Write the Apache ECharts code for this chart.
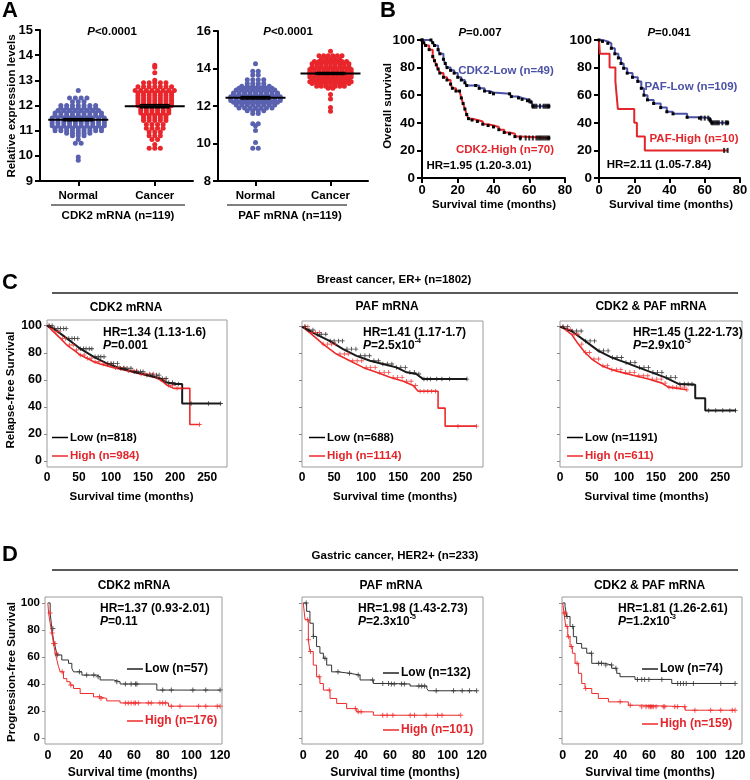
<!DOCTYPE html>
<html><head><meta charset="utf-8">
<script src="https://cdn.jsdelivr.net/npm/echarts/dist/echarts.min.js"></script>
<style>html,body{margin:0;padding:0;background:#fff}#c{width:750px;height:780px}</style>
</head><body><div id="c"></div><script>
// ---------- DATA ----------
const groupCats = ['Normal', 'Cancer'];
const cdk2Normal = [12.6, 12.3,12.3,12.3,12.3, 12.15,12.15,12.15,
 12.0,12.0,12.0,12.0,12.0,12.0,12.0, 11.9,11.9,11.9,11.9,11.9,11.9,11.9,
 11.8,11.8,11.8,11.8,11.8,11.8,11.8,11.8, 11.7,11.7,11.7,11.7,11.7,11.7,11.7,11.7,11.7,
 11.6,11.6,11.6,11.6,11.6,11.6,11.6,11.6,11.6, 11.5,11.5,11.5,11.5,11.5,11.5,11.5,11.5,11.5,11.5,
 11.4,11.4,11.4,11.4,11.4,11.4,11.4,11.4,11.4,11.4, 11.3,11.3,11.3,11.3,11.3,11.3,11.3,11.3,11.3,11.3,
 11.2,11.2,11.2,11.2,11.2,11.2,11.2,11.2,11.2,11.2, 11.1,11.1,11.1,11.1,11.1,11.1,11.1,11.1,11.1,
 11.0,11.0,11.0,11.0,11.0,11.0,11.0,11.0,11.0, 10.9,10.9,10.9,10.9,10.9, 10.8,10.8,10.8,
 10.65, 10.5,10.5, 9.95, 9.82];
const cdk2Cancer = [13.6, 13.52, 13.3, 13.0, 12.9,12.9,12.9,12.9,12.9,
 12.75,12.75,12.75,12.75,12.75,12.75,12.75, 12.6,12.6,12.6,12.6,12.6,12.6,12.6,12.6,
 12.5,12.5,12.5,12.5,12.5,12.5,12.5, 12.4,12.4,12.4,12.4,12.4,12.4,12.4,
 12.3,12.3,12.3,12.3,12.3,12.3,12.3, 12.2,12.2,12.2,12.2,12.2,12.2,12.2,
 12.1,12.1,12.1,12.1,12.1,12.1,12.1, 12.0,12.0,12.0,12.0,12.0,12.0,12.0,
 11.9,11.9,11.9,11.9,11.9,11.9, 11.8,11.8,11.8,11.8,11.8,11.8, 11.7,11.7,11.7,11.7,11.7,11.7,
 11.6,11.6,11.6,11.6,11.6, 11.5,11.5,11.5,11.5,11.5, 11.4,11.4,11.4,11.4,11.4,
 11.25,11.25,11.25,11.25, 11.1,11.1,11.1,11.1, 10.95,10.95,10.95, 10.8,10.8,10.8,
 10.65,10.65, 10.45, 10.3,10.3,10.3];
const pafNormal = [14.25, 13.85,13.85, 13.65,13.65, 13.4,13.4,13.4,13.4, 13.2,13.2,13.2,13.2,
 13.05,13.05,13.05,13.05,13.05,13.05, 12.95,12.95,12.95,12.95,12.95,12.95,12.95,
 12.85,12.85,12.85,12.85,12.85,12.85,12.85,12.85, 12.7,12.7,12.7,12.7,12.7,12.7,12.7,12.7,12.7,
 12.6,12.6,12.6,12.6,12.6,12.6,12.6,12.6,12.6, 12.5,12.5,12.5,12.5,12.5,12.5,12.5,12.5,12.5,12.5,
 12.4,12.4,12.4,12.4,12.4,12.4,12.4,12.4,12.4,12.4, 12.3,12.3,12.3,12.3,12.3,12.3,12.3,12.3,12.3,12.3,
 12.2,12.2,12.2,12.2,12.2,12.2,12.2,12.2,12.2, 12.05,12.05,12.05,12.05,12.05,12.05,12.05,12.05,
 11.9,11.9,11.9,11.9,11.9,11.9,11.9, 11.75,11.75,11.75,11.75, 11.6,11.6,
 11.05,11.05, 10.95, 10.7, 10.05, 9.75,9.75];
const pafCancer = [14.92, 14.68,14.68,14.68,14.68,14.68,14.68, 14.5,14.5,14.5,14.5,14.5,
 14.38,14.38,14.38,14.38,14.38,14.38,14.38,14.38, 14.25,14.25,14.25,14.25,14.25,14.25,14.25,14.25,14.25,
 14.1,14.1,14.1,14.1,14.1,14.1,14.1,14.1,14.1, 13.95,13.95,13.95,13.95,13.95,13.95,13.95,13.95,13.95,13.95,
 13.8,13.8,13.8,13.8,13.8,13.8,13.8,13.8,13.8,13.8, 13.7,13.7,13.7,13.7,13.7,13.7,13.7,13.7,13.7,13.7,
 13.55,13.55,13.55,13.55,13.55,13.55,13.55,13.55,13.55,13.55, 13.45,13.45,13.45,13.45,13.45,13.45,13.45,13.45,13.45,
 13.3,13.3,13.3,13.3,13.3,13.3,13.3,13.3,13.3,13.3, 13.2,13.2,13.2,13.2,13.2,13.2,13.2,13.2,13.2,
 13.05,13.05,13.05,13.05,13.05,13.05,13.05, 12.95,12.95, 12.62, 12.38, 11.92, 11.72];

// Panel B (overall survival, %)
const bCdk2Low = [[0,100],[5,100],[6,98],[7,96],[9,93],[10,90],[12,86],[13,83],[14,80],[16,78],[18,76],[20,73],[22,71],[24,69],[25,67],[30,67],[32,65],[35,63],[38,62],[40,61],[49,61],[50,59],[54,58],[56,57],[59,56],[61,55],[62,52],[71,52]];
const bCdk2High = [[0,100],[1,98],[2,96],[4,93],[6,88],[7,85],[8,82],[9,79],[10,76],[12,73],[14,71],[16,68],[17,65],[19,63],[21,63],[22,58],[23,54],[24,50],[25,46],[26,43],[28,42],[31,41],[34,39],[37,38],[40,37],[43,35],[46,33],[49,32],[52,30],[55,29],[71,29]];
const bPafLow = [[0,100],[2,99],[5,97.6],[7,94],[9,90],[11,87],[12.5,83],[14,79.5],[16,76],[19,73],[22,70],[24,65],[25.5,60],[27.5,56.6],[31,54],[35,51],[38.5,48],[42,46.5],[50,44],[57,43.4],[63,42],[64,40],[73,40]];
const bPafHigh = [[0,100],[0.5,90],[6,80],[9.3,70],[10,60],[10.7,50],[20,40],[21.5,30],[26,20],[73,20]];
const bCdk2LowCens = [60,62,63,64,66,68,69,70,71];
const bCdk2HighCens = [55,58,60,62,64,65,66,67,68,69,70,71];
const bPafLowCens = [58,60,62,63,64,65,66,67,68,70,72,73];
const bPafHighCens = [71,73];

// Panel C (relapse-free survival, %)
const cCdk2Low = [[0,100],[10,98],[31,90.6],[52,83],[73,77],[94,72],[115,68.5],[135,66],[156,63.5],[177,61],[187,58],[200,57],[211,57],[211,42.5],[271,42.5]];
const cCdk2High = [[0,100],[5,98],[10,95.6],[21,90.6],[31,85.7],[42,82],[52,78.3],[62.5,75.9],[73,73.4],[83,71.7],[104,69],[125,66.7],[146,64.3],[167,62],[177,60],[187.5,56],[198,53.7],[223,53.7],[223,27],[238,27]];
const cPafLow = [[0,100],[10,97.5],[22,94.3],[43,89.4],[64,83.3],[85,78.3],[106,74.6],[126,72.2],[147,69.7],[163,66],[178,64.8],[189,61],[257,61]];
const cPafHigh = [[0,100],[12,95.6],[33,87],[53.6,79.6],[74.5,74.6],[95,69.7],[116,66],[137,62.3],[158,59.4],[173,56.2],[181,52],[212,52],[212,39.4],[223,39.4],[223,26],[272,26]];
const cBothLow = [[0,100],[18,96.8],[39,89.4],[60,82],[81,77],[101.6,73.4],[122,69.7],[143,66],[164,62.3],[185,57.4],[211,56.7],[211,46.8],[226.6,46.8],[226.6,37.7],[274.5,37.7]];
const cBothHigh = [[0,100],[8,98],[18,94.3],[28.6,87],[39,80.8],[49.5,75.9],[65,71],[81,68],[96,66],[117,63.5],[138,61],[159,58],[169,55],[198,53]];
const cCdk2LowCens = [3,8,12,17,21,26,30,34,39,43,48,52,57,61,66,70,75,80,84,89,95,100,104,110,115,120,125,131,136,140,146,150,156,161,165,171,175,180,186,190,196,200,205,225,252,271];
const cCdk2HighCens = [4,9,14,19,24,29,35,41,46,52,58,63,69,75,81,88,94,100,107,113,120,127,134,140,147,153,160,166,172,178,184,190,196,203,210,238];
const cPafLowCens = [5,11,17,24,30,37,44,50,57,63,70,77,84,91,98,105,112,119,126,133,140,147,154,161,168,175,182,190,195,200,210,218,230,257];
const cPafHighCens = [4,9,15,21,27,33,40,46,52,59,66,72,79,86,93,100,107,114,121,128,135,142,149,156,163,170,177,184,190,196,202,208,243,272];
const cBothLowCens = [5,12,19,26,33,40,47,54,61,68,75,82,89,96,103,110,117,124,131,138,145,152,159,166,173,180,187,194,200,206,232,243,254,265,274];
const cBothHighCens = [4,10,16,22,28,34,40,46,53,60,67,74,81,88,95,102,109,116,123,130,137,144,151,158,164,170,176,182,188,194,198];

// Panel D (progression-free survival, %)
const dCdk2Low = [[0,100],[1.6,92.5],[2.8,81],[3.9,72.7],[5.1,67.7],[6.3,61.5],[9.7,57.8],[14.4,55.3],[16.7,51.6],[17.9,49],[23.7,46.6],[34,45.4],[36.4,43],[45.7,41.7],[50.3,40],[75.9,35.5],[120,35.5]];
const dCdk2High = [[0,100],[0.5,92.5],[1.6,85],[2.8,77.7],[3.9,70],[5.1,62.8],[6.3,57.8],[7.4,52.9],[8.6,49],[10.9,44],[13.2,41.7],[15.5,39.2],[17.9,36.7],[22.5,33],[31.8,30.5],[36.4,29.3],[41,27.5],[50.3,26],[84,23.6],[120,23.6]];
const dPafLow = [[0,100],[2.3,93.8],[4.6,85],[6.9,75.2],[9.2,67.7],[11.5,62.8],[13.9,59],[16.2,54],[19.6,49],[24.2,47.9],[32.3,46.6],[39.3,43],[48.5,40.4],[60,40],[73.9,38.5],[85.5,36.7],[86.6,35],[120,35]];
const dPafHigh = [[0,100],[1.2,87.6],[3.5,72.7],[4.6,64],[6.9,54],[9.2,45.4],[11.5,40.4],[13.9,35.5],[18.5,29.3],[23.1,25.6],[30,21.8],[37,19.4],[48.5,16.9],[108.5,16.9]];
const dBothLow = [[0,100],[1.6,97.5],[2.8,90],[5.1,82.6],[7.4,75],[9.7,70],[13.2,66.5],[16.7,62.8],[20.2,55.3],[29.5,54],[34.1,51.6],[37.6,47.9],[39.9,45.4],[50.3,43.4],[75.9,40.4],[120,40.4]];
const dBothHigh = [[0,100],[0.9,92.5],[2.1,82.6],[3.5,75],[5.1,67.7],[6.7,62.8],[8.6,55.3],[10.9,47.9],[13.2,40.4],[15.5,36.7],[20.2,33],[24.8,29.3],[31.8,26.8],[45.7,24.3],[55,23.2],[85.2,20.6],[120,20.6]];
const dCdk2LowCens = [3.5,6.5,22,27,32,35,48,54,58,61,62,80,86,101,110,120];
const dCdk2HighCens = [1.5,3,4,5,6,10,16,36,37,54,56,58,60,61,63,70,72,78,80,82,86,92,105,110,118,120];
const dPafLowCens = [2,7,15,24,32,38,48,55,59,61,63,68,70,80,82,84,92,104,110,115,120];
const dPafHighCens = [3,3.5,5,11,18,36,38,40,55,58,62,74,77,85,93,96,109];
const dBothLowCens = [3,7,20,25,27,30,34,37,52,55,57,60,69,80,82,84,86,91,110,120];
const dBothHighCens = [1,2,3,4,6,10,16,40,47,55,58,60,61,62,63,65,70,71,78,80,85,92,103,110,118,120];

const kmYTicks = [0,20,40,60,80,100];
const cXTicks = [0,50,100,150,200,250];
const dXTicks = [0,20,40,60,80,100,120];

// ---------- HELPERS ----------
const FF = '"Liberation Sans", Arial, Helvetica, sans-serif';
const BLUE = '#4b52a6', RED = '#e3262c', DOT_BLUE = '#5a62b0', DOT_RED = '#e8262b', KM_RED = '#ee2a2a', KM_BLACK = '#1a1a1a';

function swarm(values, cat, spacing) {
  const groups = new Map();
  values.forEach(v => { const k = v.toFixed(3); if (!groups.has(k)) groups.set(k, []); groups.get(k).push(v); });
  const out = [];
  groups.forEach(arr => { const n = arr.length; arr.forEach((v, i) => out.push([cat, v, (i - (n - 1) / 2) * spacing])); });
  return out;
}
function meanSem(values, cat) {
  const n = values.length, m = values.reduce((a, b) => a + b, 0) / n;
  const sd = Math.sqrt(values.reduce((a, b) => a + (b - m) * (b - m), 0) / (n - 1));
  return [cat, m, sd / Math.sqrt(n)];
}
function stepAt(curve, t) { let v = curve[0][1]; for (const p of curve) { if (p[0] <= t) v = p[1]; else break; } return v; }

function swarmSeries(idx, data, color) {
  return { type: 'custom', xAxisIndex: idx, yAxisIndex: idx, data, z: 2,
    renderItem: (params, api) => {
      const p = api.coord([api.value(0), api.value(1)]);
      return { type: 'circle', shape: { cx: p[0] + api.value(2), cy: p[1], r: 2.5 }, style: { fill: color } };
    } };
}
function meanSeries(idx, data) {
  return { type: 'custom', xAxisIndex: idx, yAxisIndex: idx, data, z: 5,
    renderItem: (params, api) => {
      const m = api.coord([api.value(0), api.value(1)]);
      const hi = api.coord([api.value(0), api.value(1) + api.value(2)]);
      const lo = api.coord([api.value(0), api.value(1) - api.value(2)]);
      const x = m[0], st = { stroke: '#000', lineWidth: 2 };
      return { type: 'group', children: [
        { type: 'line', shape: { x1: x - 30, y1: m[1], x2: x + 30, y2: m[1] }, style: st },
        { type: 'line', shape: { x1: x, y1: hi[1], x2: x, y2: lo[1] }, style: st },
        { type: 'line', shape: { x1: x - 15, y1: hi[1], x2: x + 15, y2: hi[1] }, style: { stroke: '#000', lineWidth: 1.5 } },
        { type: 'line', shape: { x1: x - 15, y1: lo[1], x2: x + 15, y2: lo[1] }, style: { stroke: '#000', lineWidth: 1.5 } }
      ] };
    } };
}
function kmLine(idx, data, color, width, step, marks) {
  const s = { type: 'line', xAxisIndex: idx, yAxisIndex: idx, data, step: step, lineStyle: { color, width },
    showSymbol: false, z: 3, silent: true };
  if (marks) { s.showSymbol = true; s.showAllSymbol = true; s.symbol = 'rect'; s.symbolSize = 3; s.itemStyle = { color: '#000' }; }
  return s;
}
const PLUS = 'path://M4,0h2v4h4v2h-4v4h-2v-4h-4v-2h4z';
function censor(idx, curve, times, color, symbol, size) {
  return { type: 'scatter', xAxisIndex: idx, yAxisIndex: idx, data: times.map(t => [t, stepAt(curve, t)]),
    symbol: symbol || PLUS, symbolSize: size || 5, itemStyle: { color }, z: 4, silent: true };
}

function gpY(grid, min, max, interval, fs) {
  return { gridIndex: grid, type: 'value', min, max, interval,
    axisLine: { show: true, onZero: false, lineStyle: { color: '#000', width: 2 } },
    axisTick: { show: true, length: 5, lineStyle: { color: '#000', width: 2 } },
    axisLabel: { color: '#000', fontWeight: 'bold', fontSize: fs, margin: 7, fontFamily: FF },
    splitLine: { show: false } };
}
function gpXCat(grid) {
  return { gridIndex: grid, type: 'category', data: groupCats,
    axisLine: { show: true, onZero: false, lineStyle: { color: '#000', width: 2 } },
    axisTick: { show: true, alignWithLabel: true, length: 5, lineStyle: { color: '#000', width: 2 } },
    axisLabel: { color: '#000', fontWeight: 'bold', fontSize: 11.5, margin: 9, fontFamily: FF },
    splitLine: { show: false } };
}
function gpXVal(grid) {
  return { gridIndex: grid, type: 'value', min: 0, max: 80, interval: 20,
    axisLine: { show: true, onZero: false, lineStyle: { color: '#000', width: 2 } },
    axisTick: { show: true, length: 5, lineStyle: { color: '#000', width: 2 } },
    axisLabel: { color: '#000', fontWeight: 'bold', fontSize: 13, margin: 6, fontFamily: FF },
    splitLine: { show: false } };
}
function kmX(grid, min, max, vals, fs) {
  return { gridIndex: grid, type: 'value', min, max,
    axisLine: { show: false, onZero: false }, axisTick: { show: false },
    axisLabel: { customValues: vals, color: '#000', fontWeight: 'bold', fontSize: fs, margin: 5, fontFamily: FF },
    splitLine: { show: false } };
}
function kmY(grid, min, max, showLab, fs) {
  return { gridIndex: grid, type: 'value', min, max,
    axisLine: { show: false, onZero: false },
    axisTick: { show: true, customValues: kmYTicks, length: 3, lineStyle: { color: '#888' } },
    axisLabel: { show: showLab, customValues: kmYTicks, color: '#000', fontWeight: 'bold', fontSize: fs, margin: 5, fontFamily: FF },
    splitLine: { show: false } };
}

function rich(size) {
  return {
    i: { font: `italic bold ${size}px ${FF}`, lineHeight: size + 4 },
    n: { font: `bold ${size}px ${FF}`, lineHeight: size + 4 },
    s: { font: `bold ${Math.round(size * 0.62)}px ${FF}`, verticalAlign: 'top', lineHeight: Math.round(size * 0.62) }
  };
}
function T(x, y, text, size, o) {
  o = o || {};
  const align = o.align || 'center';
  const st = { text, fill: o.color || '#000', font: `bold ${size}px ${FF}`, align, verticalAlign: 'middle', textAlign: align, textVerticalAlign: 'middle' };
  if (o.rich) st.rich = rich(size);
  return { type: 'text', x, y, rotation: o.rot || 0, silent: true, z: 100, style: st };
}
function L(x1, y1, x2, y2, color, w) {
  return { type: 'line', silent: true, z: 100, shape: { x1, y1, x2, y2 }, style: { stroke: color || '#000', lineWidth: w || 1 } };
}
const R90 = Math.PI / 2;

// ---------- LAYOUT ----------
const gb = { containLabel: false, outerBoundsMode: 'none' };
const frame = { show: true, borderColor: '#9a9a9a', borderWidth: 1, backgroundColor: 'transparent' };
const grids = [
  Object.assign({ left: 40, top: 30, width: 153, height: 151 }, gb),
  Object.assign({ left: 218, top: 31, width: 150, height: 150 }, gb),
  Object.assign({ left: 422, top: 40, width: 143, height: 138 }, gb),
  Object.assign({ left: 599, top: 40, width: 141, height: 138 }, gb),
  Object.assign({ left: 47, top: 320, width: 180, height: 147 }, gb, frame),
  Object.assign({ left: 302, top: 321, width: 181, height: 146 }, gb, frame),
  Object.assign({ left: 560, top: 321, width: 182, height: 146 }, gb, frame),
  Object.assign({ left: 45, top: 597, width: 177, height: 147 }, gb, frame),
  Object.assign({ left: 302, top: 597, width: 181, height: 147 }, gb, frame),
  Object.assign({ left: 562, top: 597, width: 180, height: 147 }, gb, frame)
];

const xAxes = [
  gpXCat(0), gpXCat(1), gpXVal(2), gpXVal(3),
  kmX(4, 0, 281, cXTicks, 12), kmX(5, 0, 282, cXTicks, 12), kmX(6, 0, 284, cXTicks, 12),
  kmX(7, -2, 121.3, dXTicks, 12.5), kmX(8, -0.9, 124.4, dXTicks, 12.5), kmX(9, -0.5, 124.8, dXTicks, 12.5)
];
const yAxes = [
  gpY(0, 9, 15, 1, 13), gpY(1, 8, 16, 2, 13), gpY(2, 0, 100, 20, 13.5), gpY(3, 0, 100, 20, 13.5),
  kmY(4, -4.4, 104.2, true, 12.5), kmY(5, -4.4, 104.2, false, 12.5), kmY(6, -4.4, 104.2, false, 12.5),
  kmY(7, -4.4, 104.4, true, 11.5), kmY(8, -4.4, 104.4, false, 11.5), kmY(9, -4.4, 104.4, false, 11.5)
];

const series = [
  swarmSeries(0, swarm(cdk2Normal, 0, 5.8), DOT_BLUE),
  swarmSeries(0, swarm(cdk2Cancer, 1, 5.6), DOT_RED),
  meanSeries(0, [meanSem(cdk2Normal, 0), meanSem(cdk2Cancer, 1)]),
  swarmSeries(1, swarm(pafNormal, 0, 5.5), DOT_BLUE),
  swarmSeries(1, swarm(pafCancer, 1, 4.6), DOT_RED),
  meanSeries(1, [meanSem(pafNormal, 0), meanSem(pafCancer, 1)]),

  kmLine(2, bCdk2Low, BLUE, 2, 'end', true), kmLine(2, bCdk2High, RED, 2, 'end', true),
  censor(2, bCdk2Low, bCdk2LowCens, '#000', 'rect', [2, 5]), censor(2, bCdk2High, bCdk2HighCens, '#000', 'rect', [2, 5]),
  kmLine(3, bPafLow, BLUE, 2, 'end', true), kmLine(3, bPafHigh, RED, 2, 'end', false),
  censor(3, bPafLow, bPafLowCens, '#000', 'rect', [2, 5]), censor(3, bPafHigh, bPafHighCens, '#000', 'rect', [2, 5]),

  kmLine(4, cCdk2High, KM_RED, 1.6, false), kmLine(4, cCdk2Low, KM_BLACK, 2, false),
  censor(4, cCdk2High, cCdk2HighCens, KM_RED, null, 4.5), censor(4, cCdk2Low, cCdk2LowCens, KM_BLACK, null, 4.5),
  kmLine(5, cPafHigh, KM_RED, 1.6, false), kmLine(5, cPafLow, KM_BLACK, 2, false),
  censor(5, cPafHigh, cPafHighCens, KM_RED, null, 4.5), censor(5, cPafLow, cPafLowCens, KM_BLACK, null, 4.5),
  kmLine(6, cBothHigh, KM_RED, 1.6, false), kmLine(6, cBothLow, KM_BLACK, 2, false),
  censor(6, cBothHigh, cBothHighCens, KM_RED, null, 4.5), censor(6, cBothLow, cBothLowCens, KM_BLACK, null, 4.5),

  kmLine(7, dCdk2Low, '#333', 1, 'end'), kmLine(7, dCdk2High, KM_RED, 1, 'end'),
  censor(7, dCdk2Low, dCdk2LowCens, '#333'), censor(7, dCdk2High, dCdk2HighCens, KM_RED),
  kmLine(8, dPafLow, '#333', 1, 'end'), kmLine(8, dPafHigh, KM_RED, 1, 'end'),
  censor(8, dPafLow, dPafLowCens, '#333'), censor(8, dPafHigh, dPafHighCens, KM_RED),
  kmLine(9, dBothLow, '#333', 1, 'end'), kmLine(9, dBothHigh, KM_RED, 1, 'end'),
  censor(9, dBothLow, dBothLowCens, '#333'), censor(9, dBothHigh, dBothHighCens, KM_RED)
];

const S = 11.5, H = 12;
const graphics = [
  // Panel A
  T(2, 11, 'A', 22, { align: 'left' }),
  T(112, 32, '{i|P}{n|<0.0001}', S, { rich: true }),
  T(288, 32, '{i|P}{n|<0.0001}', S, { rich: true }),
  T(12, 106, 'Relative expression levels', S, { rot: R90 }),
  L(51, 205, 185, 205, '#000', 1), L(227, 205, 347, 205, '#000', 1),
  T(118, 216, 'CDK2 mRNA (n=119)', S), T(290, 216, 'PAF mRNA (n=119)', S),
  // Panel B
  T(380, 11, 'B', 22, { align: 'left' }),
  T(480, 33, '{i|P}{n|=0.007}', S, { rich: true }),
  T(669, 33, '{i|P}{n|=0.041}', S, { rich: true }),
  T(388, 106, 'Overall survival', S, { rot: R90 }),
  T(506, 70.5, 'CDK2-Low (n=49)', S, { color: BLUE }),
  T(505, 150, 'CDK2-High (n=70)', S, { color: RED }),
  T(479, 165.5, 'HR=1.95 (1.20-3.01)', S),
  T(691, 86.5, 'PAF-Low (n=109)', S, { color: BLUE }),
  T(694, 139, 'PAF-High (n=10)', S, { color: RED }),
  T(659, 165, 'HR=2.11 (1.05-7.84)', S),
  T(494, 205, 'Survival time (months)', S), T(671, 205, 'Survival time (months)', S),
  // Panel C
  T(2, 283, 'C', 22, { align: 'left' }),
  T(394, 280, 'Breast cancer, ER+ (n=1802)', S),
  L(52, 293, 738, 293, '#222', 1.5),
  T(126, 307.5, 'CDK2 mRNA', H), T(387, 307, 'PAF mRNA', H), T(651, 307, 'CDK2 & PAF mRNA', H),
  T(11, 390, 'Relapse-free Survival', S, { rot: R90 }),
  T(103, 333, 'HR=1.34 (1.13-1.6)', H, { align: 'left' }),
  T(103, 345.5, '{i|P}{n|=0.001}', H, { align: 'left', rich: true }),
  T(363, 333, 'HR=1.41 (1.17-1.7)', H, { align: 'left' }),
  T(363, 345.5, '{i|P}{n|=2.5x10}{s|-4}', H, { align: 'left', rich: true }),
  T(633, 333, 'HR=1.45 (1.22-1.73)', H, { align: 'left' }),
  T(633, 345.5, '{i|P}{n|=2.9x10}{s|-5}', H, { align: 'left', rich: true }),
  L(52, 437.5, 68, 437.5, '#000', 1.5), T(70, 437.5, 'Low (n=818)', S, { align: 'left' }),
  L(52, 456, 68, 456, KM_RED, 1.5), T(70, 456, 'High (n=984)', S, { align: 'left', color: RED }),
  L(309, 437.5, 325, 437.5, '#000', 1.5), T(327, 437.5, 'Low (n=688)', S, { align: 'left' }),
  L(309, 456, 325, 456, KM_RED, 1.5), T(327, 456, 'High (n=1114)', S, { align: 'left', color: RED }),
  L(567, 437.5, 583, 437.5, '#000', 1.5), T(585, 437.5, 'Low (n=1191)', S, { align: 'left' }),
  L(567, 456, 583, 456, KM_RED, 1.5), T(585, 456, 'High (n=611)', S, { align: 'left', color: RED }),
  T(131.5, 497, 'Survival time (months)', S), T(395, 497, 'Survival time (months)', S), T(646.5, 497, 'Survival time (months)', S),
  // Panel D
  T(2, 555, 'D', 22, { align: 'left' }),
  T(395, 556, 'Gastric cancer, HER2+ (n=233)', S),
  L(52, 570, 738, 570, '#222', 1.5),
  T(134, 586, 'CDK2 mRNA', H), T(391, 586, 'PAF mRNA', H), T(649.5, 586, 'CDK2 & PAF mRNA', H),
  T(11.5, 672, 'Progression-free Survival', S, { rot: R90 }),
  T(100, 608.5, 'HR=1.37 (0.93-2.01)', H, { align: 'left' }),
  T(100, 622, '{i|P}{n|=0.11}', H, { align: 'left', rich: true }),
  T(358, 608.5, 'HR=1.98 (1.43-2.73)', H, { align: 'left' }),
  T(358, 622, '{i|P}{n|=2.3x10}{s|-5}', H, { align: 'left', rich: true }),
  T(618, 608.5, 'HR=1.81 (1.26-2.61)', H, { align: 'left' }),
  T(618, 622, '{i|P}{n|=1.2x10}{s|-3}', H, { align: 'left', rich: true }),
  L(127, 669, 143, 669, '#222', 1.5), T(145, 669, 'Low (n=57)', H, { align: 'left' }),
  L(127, 721, 143, 721, KM_RED, 1.5), T(145, 721, 'High (n=176)', H, { align: 'left', color: RED }),
  L(383, 673, 399, 673, '#222', 1.5), T(401, 673, 'Low (n=132)', H, { align: 'left' }),
  L(383, 730, 399, 730, KM_RED, 1.5), T(401, 730, 'High (n=101)', H, { align: 'left', color: RED }),
  L(642, 669, 658, 669, '#222', 1.5), T(660, 669, 'Low (n=74)', H, { align: 'left' }),
  L(642, 724, 658, 724, KM_RED, 1.5), T(660, 724, 'High (n=159)', H, { align: 'left', color: RED }),
  T(132.5, 773, 'Survival time (months)', H), T(395, 773, 'Survival time (months)', H), T(650, 773, 'Survival time (months)', H)
];

const chart = echarts.init(document.getElementById('c'), null, { renderer: 'canvas' });
chart.setOption({
  animation: false,
  backgroundColor: '#fff',
  textStyle: { fontFamily: FF },
  grid: grids, xAxis: xAxes, yAxis: yAxes, series,
  graphic: { elements: graphics }
});
</script></body></html>
